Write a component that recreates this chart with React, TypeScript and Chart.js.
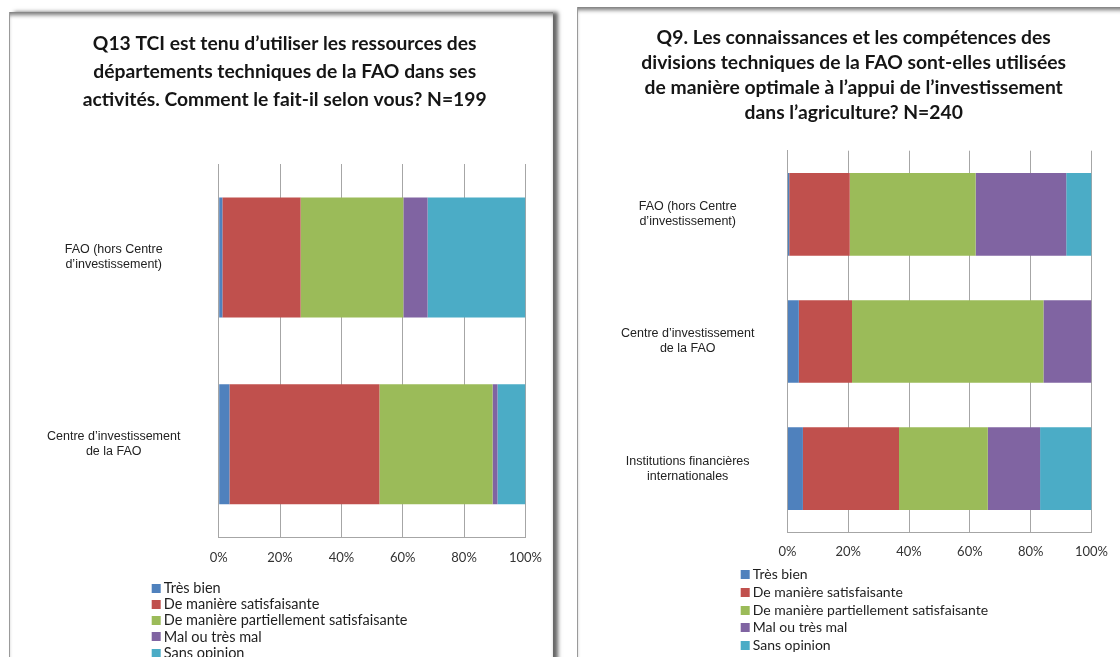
import React, { useEffect, useRef } from "react";
import { Chart, registerables } from "chart.js";

Chart.register(...registerables);

// ---------- shared data ----------
const SERIES_LABELS = [
  "Très bien",
  "De manière satisfaisante",
  "De manière partiellement satisfaisante",
  "Mal ou très mal",
  "Sans opinion",
];
const SERIES_COLORS = ["#4F81BD", "#C0504D", "#9BBB59", "#8064A2", "#4BACC6"];
const X_TICKS = [0, 20, 40, 60, 80, 100];

// ---------- Q13 (left) ----------
const Q13_TITLE = [
  "Q13 TCI est tenu d’utiliser les ressources des",
  "départements techniques de la FAO dans ses",
  "activités. Comment le fait-il selon vous? N=199",
];
const Q13_CATEGORIES = [
  ["FAO (hors Centre", "d’investissement)"],
  ["Centre d’investissement", "de la FAO"],
];
const Q13_TRES_BIEN = [1.2, 3.5];
const Q13_SATISFAISANTE = [25.5, 48.9];
const Q13_PARTIELLEMENT = [33.5, 36.9];
const Q13_MAL = [7.9, 1.6];
const Q13_SANS_OPINION = [31.9, 9.1];

// ---------- Q9 (right) ----------
const Q9_TITLE = [
  "Q9. Les connaissances et les compétences des",
  "divisions techniques de la FAO sont-elles utilisées",
  "de manière optimale à l’appui de l’investissement",
  "dans l’agriculture? N=240",
];
const Q9_CATEGORIES = [
  ["FAO (hors Centre", "d’investissement)"],
  ["Centre d’investissement", "de la FAO"],
  ["Institutions financières", "internationales"],
];
const Q9_TRES_BIEN = [0.6, 3.75, 5.1];
const Q9_SATISFAISANTE = [19.9, 17.5, 31.6];
const Q9_PARTIELLEMENT = [41.4, 62.95, 29.2];
const Q9_MAL = [29.8, 15.8, 17.2];
const Q9_SANS_OPINION = [8.3, 0, 16.9];

const LABEL_FONT_FAMILY = "'Liberation Sans', Arial, sans-serif";
const TEXT_FONT_FAMILY = "Lato, 'Open Sans', sans-serif";

const excelLegend = {
  id: "excelLegend",
  afterDraw(chart: any, _args: any, opts: any) {
    const ctx = chart.ctx;
    ctx.save();
    ctx.font = opts.font;
    ctx.textBaseline = "middle";
    ctx.textAlign = "left";
    chart.data.datasets.forEach((ds: any, i: number) => {
      const y = opts.y + i * opts.step;
      ctx.fillStyle = ds.backgroundColor;
      ctx.fillRect(opts.x, Math.round(y - opts.box / 2), opts.box, opts.box);
      ctx.fillStyle = opts.color;
      ctx.fillText(ds.label, opts.x + opts.box + opts.gap, y);
    });
    ctx.restore();
  },
};

// all geometry below in page pixels
type PanelProps = {
  title: string[];
  categories: string[][];
  series: number[][];
  titleCenterX: number;
  titleFirstY: number;
  titleLineHeight: number;
  canvasTop: number;
  canvasRight: number;
  canvasBottom: number;
  areaLeft: number;
  areaTop: number;
  areaRight: number;
  areaBottom: number;
  labelCenter: number;
  barFraction: number;
  legendX: number;
  legendY: number;
  legendStep: number;
  legendFont: number;
};

function measureWidest(lines: string[][], font: string) {
  const c = document.createElement("canvas").getContext("2d")!;
  c.font = font;
  let w = 0;
  lines.flat().forEach((l) => {
    w = Math.max(w, c.measureText(l).width);
  });
  return w;
}

function Panel(p: PanelProps) {
  const ref = useRef<HTMLCanvasElement | null>(null);
  // title is centred between canvas left and area right (padding right is layout padding)
  const canvasLeft = 2 * p.titleCenterX - p.areaRight;
  const width = Math.round(p.canvasRight - canvasLeft);
  const height = p.canvasBottom - p.canvasTop;
  useEffect(() => {
    if (!ref.current) return;
    const labelSize = 12.5;
    const widest = measureWidest(p.categories, `${labelSize}px ${LABEL_FONT_FAMILY}`);
    const yAxisWidth = p.areaLeft - canvasLeft;
    const yPad = p.areaLeft - p.labelCenter - widest / 2;
    const xAxisHeight = 40;
    const titleBlock = p.title.length * p.titleLineHeight;
    const titlePadTop = p.titleFirstY - p.canvasTop - p.titleLineHeight / 2;
    const titleSize = 19.3;
    const chart = new Chart(ref.current, {
      type: "bar",
      data: {
        labels: p.categories,
        datasets: SERIES_LABELS.map((label, i) => ({
          label,
          data: p.series[i],
          backgroundColor: SERIES_COLORS[i],
          borderWidth: 0,
          barPercentage: 1,
          categoryPercentage: p.barFraction,
        })),
      },
      options: {
        indexAxis: "y",
        responsive: false,
        animation: false,
        devicePixelRatio: 1,
        layout: {
          padding: {
            top: 0,
            left: 0,
            right: canvasLeft + width - p.areaRight,
            bottom: p.canvasBottom - p.areaBottom - xAxisHeight,
          },
        },
        plugins: {
          legend: { display: false },
          tooltip: { enabled: false },
          title: {
            display: true,
            text: p.title,
            color: "#151515",
            font: {
              family: TEXT_FONT_FAMILY,
              weight: "bold",
              size: titleSize,
              lineHeight: p.titleLineHeight / titleSize,
            },
            padding: {
              top: titlePadTop,
              bottom: p.areaTop - p.canvasTop - titlePadTop - titleBlock,
            },
          },
          excelLegend: {
            x: p.legendX - canvasLeft,
            y: p.legendY - p.canvasTop,
            step: p.legendStep,
            box: 9,
            gap: 3,
            font: `${p.legendFont}px ${TEXT_FONT_FAMILY}`,
            color: "#1e1e1e",
          },
        } as any,
        scales: {
          x: {
            stacked: true,
            min: 0,
            max: 100,
            afterFit: (s: any) => {
              s.height = xAxisHeight;
            },
            afterBuildTicks: (s: any) => {
              s.ticks = X_TICKS.map((v) => ({ value: v }));
            },
            grid: { color: "#A6A6A6", lineWidth: 1, drawTicks: false },
            border: { display: true, color: "#A6A6A6" },
            ticks: {
              padding: 12,
              color: "#333",
              font: { family: TEXT_FONT_FAMILY, size: 13 },
              callback: (v: any) => `${v}%`,
            },
          },
          y: {
            stacked: true,
            afterFit: (s: any) => {
              s.width = yAxisWidth;
            },
            grid: { display: false, drawTicks: false },
            border: { display: true, color: "#A6A6A6" },
            ticks: {
              crossAlign: "center",
              padding: yPad,
              color: "#222",
              font: { family: LABEL_FONT_FAMILY, size: labelSize, lineHeight: 1.2 },
            },
          },
        },
      },
      plugins: [excelLegend as any],
    });
    return () => chart.destroy();
  }, []);
  return (
    <canvas
      ref={ref}
      width={width}
      height={height}
      style={{
        position: "absolute",
        left: canvasLeft,
        top: p.canvasTop,
        width,
        height,
      }}
    />
  );
}

export default function App() {
  return (
    <div
      style={{
        position: "fixed",
        left: 0,
        top: 0,
        width: 1120,
        height: 657,
        overflow: "hidden",
        background: "#fff",
      }}
    >
      {/* left frame */}
      <div
        style={{
          position: "absolute",
          left: 9,
          top: 12,
          width: 543,
          height: 700,
          borderLeft: "1px solid #9a9a9a",
          boxShadow: "inset 0 5px 4px -2px #777, 5px 0 4px 0 #666",
          background: "#fff",
        }}
      />
      {/* right frame */}
      <div
        style={{
          position: "absolute",
          left: 577,
          top: 7,
          width: 600,
          height: 700,
          borderLeft: "1px solid #9a9a9a",
          boxShadow: "inset 0 5px 4px -2px #777",
          background: "#fff",
        }}
      />
      <Panel
        title={Q13_TITLE}
        categories={Q13_CATEGORIES}
        series={[Q13_TRES_BIEN, Q13_SATISFAISANTE, Q13_PARTIELLEMENT, Q13_MAL, Q13_SANS_OPINION]}
        titleCenterX={285}
        titleFirstY={43.5}
        titleLineHeight={28}
        canvasTop={12}
        canvasRight={561}
        canvasBottom={657}
        areaLeft={219}
        areaTop={164}
        areaRight={525.7}
        areaBottom={537.7}
        labelCenter={114}
        barFraction={0.642}
        legendX={152}
        legendY={588}
        legendStep={16.3}
        legendFont={14.5}
      />
      <Panel
        title={Q9_TITLE}
        categories={Q9_CATEGORIES}
        series={[Q9_TRES_BIEN, Q9_SATISFAISANTE, Q9_PARTIELLEMENT, Q9_MAL, Q9_SANS_OPINION]}
        titleCenterX={854}
        titleFirstY={38}
        titleLineHeight={24.8}
        canvasTop={7}
        canvasRight={1120}
        canvasBottom={657}
        areaLeft={787.7}
        areaTop={150.7}
        areaRight={1096.7}
        areaBottom={532.3}
        labelCenter={688}
        barFraction={0.65}
        legendX={741}
        legendY={574.5}
        legendStep={17.8}
        legendFont={14}
      />
    </div>
  );
}
